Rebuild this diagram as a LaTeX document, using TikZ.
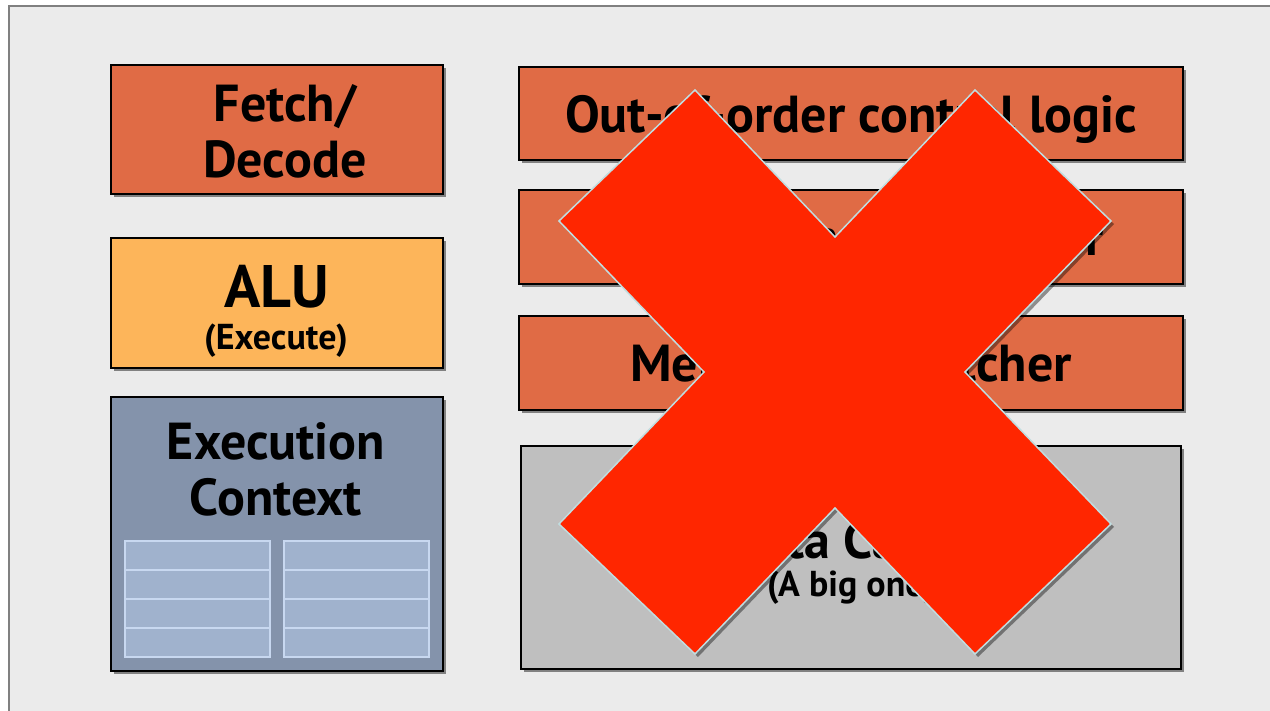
\documentclass[tikz,border=0pt]{standalone}
\usepackage{fontspec}
\setmainfont{PT Sans}
\usetikzlibrary{shadows}
\definecolor{bgframe}{HTML}{EBEBEB}
\definecolor{framegray}{HTML}{808080}
\definecolor{orangebox}{HTML}{E06B45}
\definecolor{alubox}{HTML}{FDB55A}
\definecolor{ctxbox}{HTML}{8493AB}
\definecolor{cellfill}{HTML}{A0B2CD}
\definecolor{celledge}{HTML}{C8D8F0}
\definecolor{cachebox}{HTML}{BFBFBF}
\definecolor{xred}{HTML}{FF2600}
\definecolor{xedge}{HTML}{C0DDE0}
\tikzset{
  box/.style={draw=black, line width=1.6pt, inner sep=0pt,
    drop shadow={shadow xshift=3pt, shadow yshift=-3pt, opacity=0.45, fill=black}},
  bigtxt/.style={align=center, inner sep=0pt, font=\fontsize{52}{56}\selectfont\bfseries},
  midtxt/.style={align=center, inner sep=0pt, font=\fontsize{36}{40}\selectfont\bfseries},
  cell/.style={fill=cellfill, draw=celledge, line width=1.3pt},
}
\begin{document}
\begin{tikzpicture}[x=1pt,y=-1pt]
\useasboundingbox (0,0) rectangle (1270,711);
\fill[white] (0,0) rectangle (1270,711);
\draw[framegray, fill=bgframe, line width=2pt] (9,6) rectangle (1290,730);

% left column
\node[box, fill=orangebox, minimum width=332pt, minimum height=129pt] (fetch) at (277,129.5) {};
\node[bigtxt] (fetchtxt) at (285,131) {Fetch/\\Decode};
\node[box, fill=alubox, minimum width=332pt, minimum height=130pt] (alu) at (277,303) {};
\node[bigtxt, font=\fontsize{60}{60}\selectfont\bfseries] (alutxt) at (277,287) {ALU};
\node[midtxt] (exectxt) at (276,341) {(Execute)};
\node[box, fill=ctxbox, minimum width=332pt, minimum height=274pt] (ctx) at (277,534) {};
\node[bigtxt] (ctxtxt) at (276,469) {Execution\\Context};

% register cells
\foreach \cx in {125,284}{
  \foreach \i in {0,1,2,3}{
    \draw[cell] (\cx,541+29*\i) rectangle (\cx+145,541+29*\i+29);
  }
}

% right column
\node[box, fill=orangebox, minimum width=664pt, minimum height=93pt] (ooo) at (851,113.5) {};
\node[bigtxt] (ooott) at (851,119) {Out-of-order control logic};
\node[box, fill=orangebox, minimum width=664pt, minimum height=94pt] (branch) at (851,237) {};
\node[bigtxt] (branchtxt) at (851,242) {Fancy branch predictor};
\node[box, fill=orangebox, minimum width=664pt, minimum height=94pt] (mem) at (851,363) {};
\node[bigtxt] (memtxt) at (851,368) {Memory pre-fetcher};
\node[box, fill=cachebox, minimum width=660pt, minimum height=223pt] (cache) at (851,557.5) {};
\node[bigtxt] (cachetxt) at (851,540) {Data Cache};
\node[midtxt] (bigone) at (851,588) {(A big one)};

% the cross
\filldraw[fill=xred, draw=xedge, line width=1.5pt,
  drop shadow={shadow xshift=3pt, shadow yshift=-3pt, opacity=0.4, fill=black}]
  (695,90) -- (835,237) -- (975,90) -- (1111,221) -- (965,372) -- (1111,524)
  -- (975,654) -- (835,508) -- (695,654) -- (559,524) -- (704,372) -- (559,221) -- cycle;
\end{tikzpicture}
\end{document}
